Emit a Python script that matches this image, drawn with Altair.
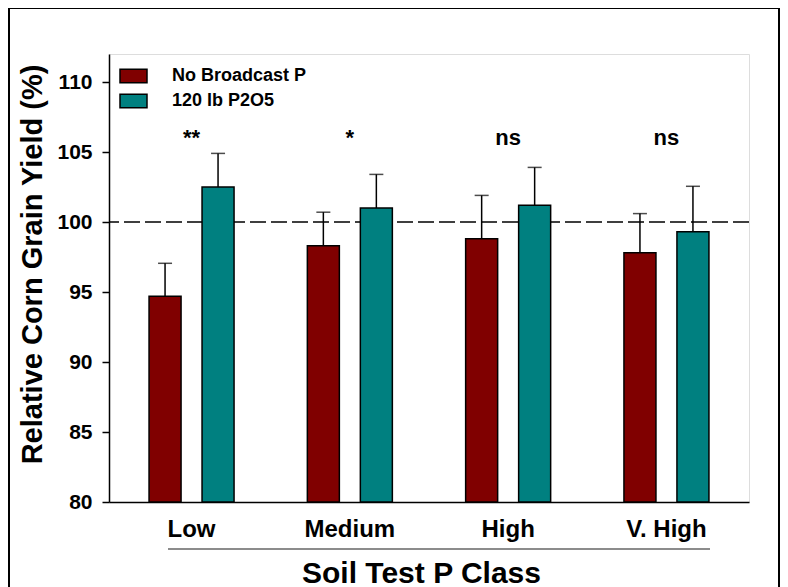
import altair as alt
import pandas as pd

# ---- data ----
classes = ["Low", "Medium", "High", "V. High"]
treatments = ["No Broadcast P", "120 lb P2O5"]
no_broadcast_mean = [94.7, 98.3, 98.8, 97.8]
no_broadcast_err = [2.35, 2.4, 3.1, 2.8]
p120_mean = [102.5, 101.0, 101.2, 99.3]
p120_err = [2.4, 2.4, 2.7, 3.25]
significance = ["**", "*", "ns", "ns"]
y_ticks = [80, 85, 90, 95, 100, 105, 110]
reference_value = [100]

rows = []
for i, c in enumerate(classes):
    rows.append({"cls": c, "trt": treatments[0], "mean": no_broadcast_mean[i],
                 "upper": no_broadcast_mean[i] + no_broadcast_err[i]})
    rows.append({"cls": c, "trt": treatments[1], "mean": p120_mean[i],
                 "upper": p120_mean[i] + p120_err[i]})
df = pd.DataFrame(rows)
ann = pd.DataFrame({"cls": classes, "label": significance})
ref = pd.DataFrame({"ref": reference_value})
one = pd.DataFrame({"a": [0]})

FONT = "Liberation Sans"

x_scale = alt.Scale(domain=classes, paddingInner=0.463, paddingOuter=0.253)
xo_scale = alt.Scale(domain=treatments, paddingInner=0.396, paddingOuter=0)
y_scale = alt.Scale(domain=[80, 112], nice=False, zero=False)

x_axis = alt.Axis(labelAngle=0, ticks=False, tickSize=0, domainColor="black", domainWidth=1.5,
                  labelFont=FONT, labelFontSize=24, labelFontWeight="bold", labelColor="black",
                  labelBaseline="alphabetic", labelPadding=34,
                  titleFont=FONT, titleFontSize=30, titleFontWeight="bold", titleColor="black",
                  titleX=312, titleY=71, titleAlign="center", titleBaseline="middle")
y_axis = alt.Axis(values=y_ticks, tickSize=7, tickWidth=1.5, tickColor="black",
                  domainColor="black", domainWidth=1.5, grid=False,
                  labelFont=FONT, labelFontSize=21, labelFontWeight="bold", labelColor="black",
                  labelPadding=10,
                  titleFont=FONT, titleFontSize=29, titleFontWeight="bold", titleColor="black",
                  titleX=-77, titleY=210, titleAlign="center", titleBaseline="middle")

X = alt.X("cls:N", sort=classes, scale=x_scale, axis=x_axis, title="Soil Test P Class")
XO = alt.XOffset("trt:N", sort=treatments, scale=xo_scale)

border = alt.Chart(one).mark_rect(fillOpacity=0, stroke="black", strokeWidth=2, clip=False).encode(
    x=alt.value(-100), x2=alt.value(670), y=alt.value(-46), y2=alt.value(620))

dash = alt.Chart(ref).mark_rule(color="black", strokeWidth=1.5, strokeDash=[16, 5]).encode(
    y=alt.Y("ref:Q", scale=y_scale, axis=y_axis, title="Relative Corn Grain Yield (%)"))

bars = alt.Chart(df).mark_bar(stroke="black", strokeWidth=1.5).encode(
    x=X, xOffset=XO,
    y=alt.Y("mean:Q", scale=y_scale, axis=y_axis, title="Relative Corn Grain Yield (%)"),
    y2=alt.datum(80),
    color=alt.Color("trt:N", sort=treatments,
                    scale=alt.Scale(domain=treatments, range=["#800000", "#008080"]),
                    legend=alt.Legend(orient="none", legendX=10, legendY=7.5, title=None,
                                      symbolType="M-1,-0.5H1V0.5H-1Z", symbolSize=729,
                                      symbolStrokeColor="black", symbolStrokeWidth=1.5,
                                      symbolOpacity=1,
                                      labelFont=FONT, labelFontSize=18, labelFontWeight="bold",
                                      labelColor="black", labelOffset=24, rowPadding=-6.5,
                                      padding=0)),
)

err = alt.Chart(df).mark_rule(color="black", strokeWidth=1.5).encode(
    x=X, xOffset=XO, y=alt.Y("mean:Q", scale=y_scale), y2="upper:Q")

cap = alt.Chart(df).mark_tick(color="black", thickness=1.5, size=14, orient="horizontal").encode(
    x=X, xOffset=XO, y=alt.Y("upper:Q", scale=y_scale))

text = alt.Chart(ann).mark_text(font=FONT, fontSize=22, fontWeight="bold", color="black",
                                baseline="alphabetic").encode(
    x=X, y=alt.datum(105.5), text="label:N")

underline = alt.Chart(one).mark_rule(color="#666666", strokeWidth=1.5, clip=False).encode(
    x=alt.value(59), x2=alt.value(601), y=alt.value(495))

chart = alt.layer(border, dash, bars, err, cap, text, underline).properties(
    width=640, height=448,
    autosize=alt.AutoSizeParams(type="none"),
    padding={"left": 101, "top": 46, "right": 31, "bottom": 100},
).configure_view(stroke="black", strokeWidth=1.5).configure(background="white")

chart.save("out.html", embed_options={"renderer": "svg", "actions": False})
